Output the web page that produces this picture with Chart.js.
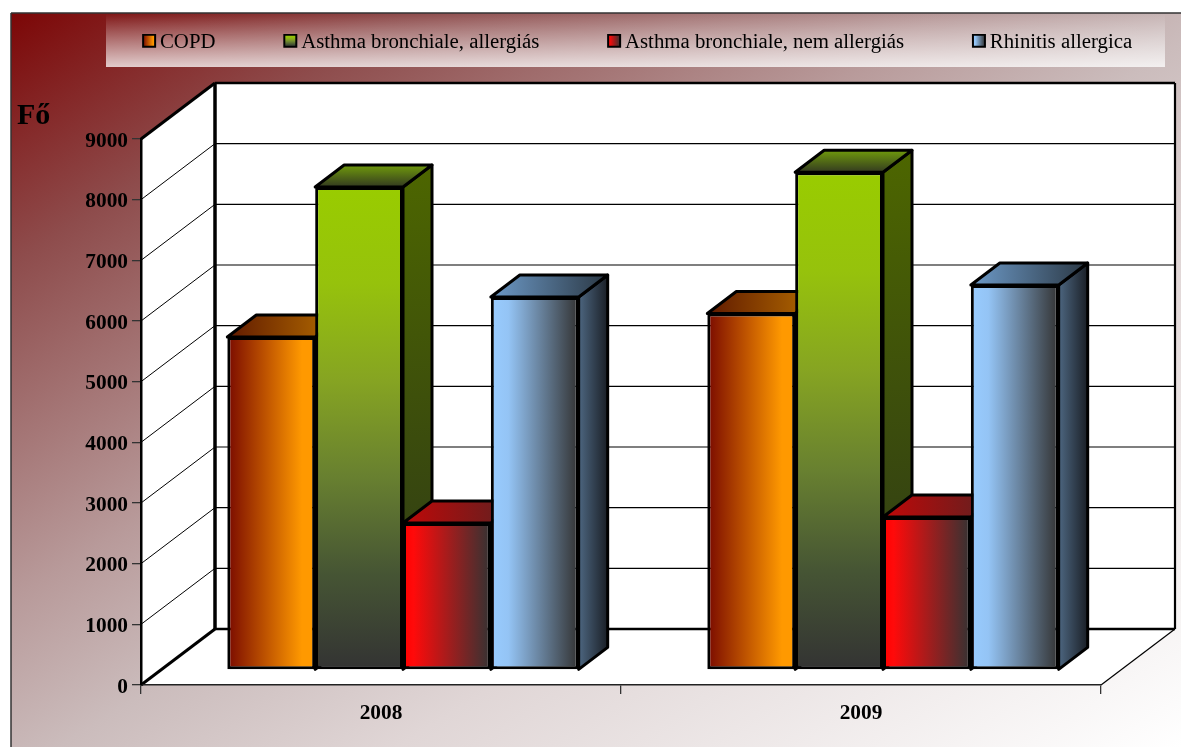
<!DOCTYPE html>
<html>
<head>
<meta charset="utf-8">
<title>Fő</title>
<style>
  html, body { margin: 0; padding: 0; background: #fff; overflow: hidden; }
  canvas { display: block; }
</style>
<script src="https://cdn.jsdelivr.net/npm/chart.js@4"></script>
</head>
<body>
<canvas id="myChart" width="1181" height="747"></canvas>
<script>
// values
const categories = ['2008', '2009'];
const seriesNames = ['COPD', 'Asthma bronchiale, allergiás', 'Asthma bronchiale, nem allergiás', 'Rhinitis allergica'];
const copd = [5489, 5876];
const asthmaAllergic = [7962, 8204];
const asthmaNonAllergic = [2423, 2522];
const rhinitis = [6148, 6346];
const yAxisName = 'Fő';
const yMax = 9000;
const yStep = 1000;

// 3d look
const depth = { x: 29, y: -22 };      // one bar's depth
const wall = { x: 74, y: -56 };       // depth of the whole box
const barShift = { x: 22, y: -15 };   // bars stand in the middle of the floor
const serif = '"Liberation Serif", "Times New Roman", serif';
const categoryPercentage = 0.732;

// [direction, stops] of each face, v = top to bottom, h = left to right
const frontFaces = [
  ['h', [[0, '#7a0a00'], [0.85, '#ff9900'], [1, '#ff9900']]],
  ['v', [[0, '#99cc00'], [0.2, '#96c20c'], [0.4, '#86a422'], [0.6, '#688030'], [0.8, '#465534'], [1, '#333333']]],
  ['h', [[0, '#ff0000'], [0.12, '#ff0a0a'], [1, '#333333']]],
  ['h', [[0, '#99ccff'], [0.2, '#94c4f5'], [1, '#333333']]]
];
const sideFaces = [
  ['h', [[0, '#804d00'], [1, '#331f00']]],
  ['v', [[0, '#4d6600'], [1, '#2c3618']]],
  ['h', [[0, '#800000'], [1, '#1a1a1a']]],
  ['h', [[0, '#4d6680'], [1, '#1a1f26']]]
];
const topFaces = [
  ['h', [[0, '#601a00'], [1, '#b87000']]],
  ['v', [[0, '#709a0c'], [1, '#333a20']]],
  ['h', [[0, '#c00808'], [1, '#5a2222']]],
  ['h', [[0, '#6d9ac8'], [1, '#2b3844']]]
];

function faceGradient(ctx, face, x0, y0, x1, y1) {
  const g = face[0] === 'h' ? ctx.createLinearGradient(x0, 0, x1, 0) : ctx.createLinearGradient(0, y0, 0, y1);
  face[1].forEach(s => g.addColorStop(s[0], s[1]));
  return g;
}

function poly(ctx, pts, fill, stroke, lw) {
  ctx.beginPath();
  pts.forEach((p, i) => i ? ctx.lineTo(p[0], p[1]) : ctx.moveTo(p[0], p[1]));
  ctx.closePath();
  if (fill) { ctx.fillStyle = fill; ctx.fill(); }
  if (stroke) { ctx.strokeStyle = stroke; ctx.lineWidth = lw; ctx.stroke(); }
}

function line(ctx, x0, y0, x1, y1, lw, color) {
  ctx.beginPath();
  ctx.moveTo(x0, y0);
  ctx.lineTo(x1, y1);
  ctx.lineWidth = lw;
  ctx.strokeStyle = color || '#000';
  ctx.stroke();
}

// small legend picture, wider than the box so it lines up with chart.js text offset
function makeSwatch(face) {
  const c = document.createElement('canvas');
  c.width = 22;
  c.height = 18;
  const g = c.getContext('2d');
  g.fillStyle = faceGradient(g, face, 8, 1, 20, 13);
  g.fillRect(8, 1, 12, 12);
  g.strokeStyle = '#000';
  g.lineWidth = 2;
  g.strokeRect(8, 1, 12, 12);
  return c;
}
const swatches = frontFaces.map(makeSwatch);

const box3d = {
  id: 'box3d',
  afterLayout(chart) {
    // legend sits over a fixed strip, not in the layout flow
    const l = chart.legend;
    l.maxWidth = 2000;
    l.fit();
    l.left = 74.3;
    l.right = 2000;
    l.top = -36;
  },
  beforeDraw(chart) {
    const ctx = chart.ctx;
    const { x, y } = chart.scales;
    const left = x.left, right = x.right, y0 = y.getPixelForValue(0), yTop = y.getPixelForValue(yMax);

    // panel background
    const px = 11, py = 13, w = chart.width - px, h = chart.height - py;
    const k = 2 * w * h / (w * w + h * h);
    const bg = ctx.createLinearGradient(px, py, px + h * k, py + w * k);
    bg.addColorStop(0, '#7c0606');
    bg.addColorStop(0.17, '#8e4c4c');
    bg.addColorStop(0.4, '#b89a9a');
    bg.addColorStop(0.52, '#cbbcbc');
    bg.addColorStop(0.665, '#e0d6d6');
    bg.addColorStop(1, '#ffffff');
    ctx.fillStyle = bg;
    ctx.fillRect(px, py, w, h);
    line(ctx, px, chart.height, px, py, 1.5, '#333');
    line(ctx, px, py, chart.width, py, 1.5, '#333');

    // legend strip
    const strip = ctx.createLinearGradient(0, 14, 0, 67);
    strip.addColorStop(0, 'rgba(255,255,255,0)');
    strip.addColorStop(1, 'rgba(255,255,255,0.76)');
    ctx.fillStyle = strip;
    ctx.fillRect(106, 14, 1059, 53);

    // walls and floor
    ctx.lineJoin = 'miter';
    const bl = left + wall.x, br = right + wall.x, bt = yTop + wall.y, bb = y0 + wall.y;
    poly(ctx, [[left, yTop], [bl, bt], [bl, bb], [left, y0]], '#fff');
    poly(ctx, [[bl, bt], [br, bt], [br, bb], [bl, bb]], '#fff');
    poly(ctx, [[left, y0], [bl, bb], [br, bb], [right, y0]], '#fff');

    // gridlines run along the side wall and the back wall
    y.ticks.forEach(t => {
      if (t.value === 0 || t.value === yMax) return;
      const p = y.getPixelForValue(t.value);
      line(ctx, left, p, bl, p + wall.y, 1);
      line(ctx, bl, p + wall.y, br, p + wall.y, 1.2);
    });

    line(ctx, bl, bt, br, bt, 2.5);
    line(ctx, br, bt, br, bb, 2.2);
    line(ctx, bl, bb, br, bb, 2.5);
    line(ctx, bl, bt, bl, bb, 3.5);
    line(ctx, left, yTop, bl, bt, 3);
    line(ctx, left, y0, bl, bb, 3);
    line(ctx, right, y0, br, bb, 1.2);

    ctx.fillStyle = '#000';
    ctx.font = 'bold 30px ' + serif;
    ctx.textAlign = 'left';
    ctx.textBaseline = 'alphabetic';
    ctx.fillText(yAxisName, 17, 124);
  },
  // chart.js paints the last dataset first, here the left bars must go first
  // so that the next bar covers their side face
  beforeDatasetsDraw(chart) {
    const ctx = chart.ctx;
    seriesNames.forEach((name, i) => {
      const meta = chart.getDatasetMeta(i);
      ctx.save();
      ctx.translate(barShift.x, barShift.y);
      meta.controller.draw();
      ctx.lineJoin = 'round';
      meta.data.forEach(bar => {
        const l = bar.x - bar.width / 2, r = bar.x + bar.width / 2;
        const dx = depth.x, dy = depth.y;
        poly(ctx, [[r, bar.y], [r + dx, bar.y + dy], [r + dx, bar.base + dy], [r, bar.base]],
          faceGradient(ctx, sideFaces[i], r, bar.y + dy, r + dx, bar.base), '#000', 3);
        poly(ctx, [[l, bar.y], [l + dx, bar.y + dy], [r + dx, bar.y + dy], [r, bar.y]],
          faceGradient(ctx, topFaces[i], l, bar.y + dy, r + dx, bar.y), '#000', 3);
      });
      ctx.restore();
    });
    return false;
  }
};

// gradient of a bar front, from where the scales put the bar
function frontColor(i) {
  return function (c) {
    if (c.dataIndex === undefined) return frontFaces[i][1][0][1];
    const { x, y } = c.chart.scales;
    const barW = x.width / categories.length * categoryPercentage / seriesNames.length;
    const l = x.getPixelForValue(c.dataIndex) + (i - seriesNames.length / 2) * barW;
    const top = y.getPixelForValue(c.dataset.data[c.dataIndex]);
    return faceGradient(c.chart.ctx, frontFaces[i], l, top, l + barW, y.getPixelForValue(0));
  };
}

const seriesValues = [copd, asthmaAllergic, asthmaNonAllergic, rhinitis];

new Chart(document.getElementById('myChart').getContext('2d'), {
  type: 'bar',
  plugins: [box3d],
  data: {
    labels: categories,
    datasets: seriesNames.map((name, i) => ({
      label: name,
      data: seriesValues[i],
      clip: false,
      backgroundColor: frontColor(i),
      borderColor: '#000',
      borderWidth: 3,
      borderSkipped: false,
      barPercentage: 1,
      categoryPercentage: categoryPercentage
    }))
  },
  options: {
    responsive: false,
    animation: false,
    layout: { padding: { left: 0, right: 80, top: 138, bottom: 0 } },
    plugins: {
      tooltip: { enabled: false },
      title: { display: false },
      legend: {
        position: 'top',
        align: 'start',
        maxHeight: 1,
        labels: {
          usePointStyle: true,
          pointStyleWidth: 7,
          padding: 68.3,
          color: '#000',
          font: { family: serif, size: 20.8 },
          generateLabels: chart => chart.data.datasets.map((d, i) => ({
            text: d.label,
            pointStyle: swatches[i],
            datasetIndex: i,
            hidden: false
          }))
        }
      }
    },
    scales: {
      x: {
        afterFit: s => { s.height = 62; },
        grid: { drawOnChartArea: false, color: '#333', lineWidth: 1.3, tickLength: 9 },
        border: { color: '#222', width: 1.5 },
        ticks: { color: '#000', padding: 7, font: { family: serif, size: 21.33, weight: 'bold' } }
      },
      y: {
        min: 0,
        max: yMax,
        afterFit: s => { s.width = 141; },
        grid: { drawOnChartArea: false, color: '#333', lineWidth: 1.3, tickLength: 9 },
        border: { color: '#000', width: 2.5 },
        ticks: {
          stepSize: yStep,
          callback: v => String(v),
          color: '#000',
          padding: 4,
          labelOffset: 2,
          font: { family: serif, size: 21.33, weight: 'bold' }
        }
      }
    }
  }
});
</script>
</body>
</html>
